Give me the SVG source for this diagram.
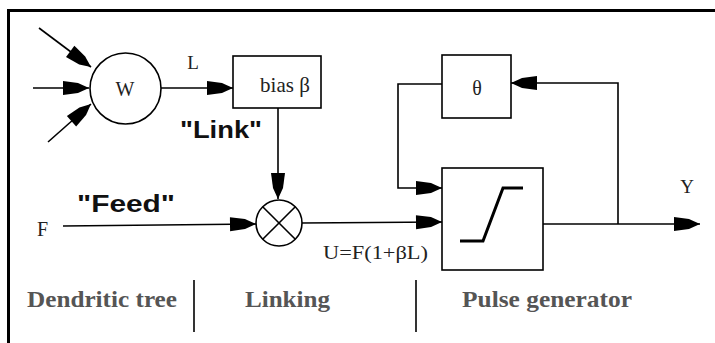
<svg xmlns="http://www.w3.org/2000/svg" width="715" height="343" viewBox="0 0 715 343">
  <style>
    .ln { fill: none; stroke: #000; stroke-width: 1.6; }
    .box { fill: #fff; stroke: #000; stroke-width: 1.6; }
    .serif { font-family: "Liberation Serif", "Times New Roman", serif; fill: #222; }
    .tag { font-family: "Liberation Sans", Arial, sans-serif; font-weight: bold; fill: #111; }
    .sect { font-family: "Liberation Serif", "Times New Roman", serif; font-weight: bold; fill: #555; font-size: 23px; }
  </style>
  <defs>
    <marker id="arr" markerUnits="userSpaceOnUse" markerWidth="30" markerHeight="16" refX="0" refY="0" viewBox="-27 -8 28 16" orient="auto">
      <path d="M0,0 L-11,-5 L-26,-7 L-26,7 L-11,5 Z" fill="#000"/>
    </marker>
  </defs>

  <!-- frame -->
  <g id="frame">
    <line x1="7" y1="10.5" x2="715" y2="10.5" stroke="#000" stroke-width="3"/>
    <line x1="8.5" y1="9" x2="8.5" y2="343" stroke="#000" stroke-width="3"/>
  </g>

  <!-- connectors -->
  <g id="connectors">
    <line class="ln" x1="39" y1="28" x2="91" y2="67" marker-end="url(#arr)"/>
    <line class="ln" x1="33" y1="88" x2="89" y2="88" marker-end="url(#arr)"/>
    <line class="ln" x1="48" y1="142" x2="91" y2="104" marker-end="url(#arr)"/>
    <line class="ln" x1="161" y1="88" x2="233" y2="88" marker-end="url(#arr)"/>
    <line class="ln" x1="278" y1="108" x2="278" y2="199" marker-end="url(#arr)"/>
    <line class="ln" x1="63" y1="226" x2="256" y2="224" marker-end="url(#arr)"/>
    <line class="ln" x1="302" y1="223" x2="442" y2="222" marker-end="url(#arr)"/>
    <polyline class="ln" points="442,84 398,84 398,188 442,188" marker-end="url(#arr)"/>
    <line class="ln" x1="543" y1="224" x2="700" y2="224" marker-end="url(#arr)"/>
    <polyline class="ln" points="618,224 618,83 511,83" marker-end="url(#arr)"/>
  </g>

  <!-- dendritic weighting -->
  <g id="w-node">
    <circle cx="125.5" cy="88.5" r="35.5" fill="#fff" stroke="#000" stroke-width="1.6"/>
    <text class="serif" x="125" y="96" font-size="20" text-anchor="middle">W</text>
  </g>
  <text class="serif" x="193" y="69" font-size="19" text-anchor="middle">L</text>

  <g id="bias-node">
    <rect class="box" x="233" y="56" width="88" height="52"/>
    <text class="serif" x="285" y="92" font-size="21" text-anchor="middle">bias β</text>
  </g>
  <text class="tag" x="180" y="138" font-size="24" textLength="82" lengthAdjust="spacingAndGlyphs">"Link"</text>

  <g id="f-input">
    <text class="serif" x="37" y="236" font-size="20">F</text>
    <text class="tag" x="77" y="212" font-size="24" textLength="98" lengthAdjust="spacingAndGlyphs">"Feed"</text>
  </g>

  <!-- modulation (multiplier) -->
  <g id="mult-node">
    <circle cx="279" cy="223" r="23" fill="#fff" stroke="#000" stroke-width="1.6"/>
    <line class="ln" x1="262.7" y1="206.7" x2="295.3" y2="239.3"/>
    <line class="ln" x1="295.3" y1="206.7" x2="262.7" y2="239.3"/>
  </g>
  <text class="serif" x="323" y="259" font-size="19" fill="#444" textLength="105" lengthAdjust="spacingAndGlyphs">U=F(1+βL)</text>

  <g id="theta-node">
    <rect class="box" x="442" y="55" width="69" height="63"/>
    <text class="serif" x="477" y="95" font-size="20" text-anchor="middle">θ</text>
  </g>

  <g id="pulse-node">
    <rect class="box" x="442" y="168" width="101" height="102"/>
    <polyline points="460,241 483,241 503,188 523,188" fill="none" stroke="#000" stroke-width="3"/>
  </g>

  <text class="serif" x="687" y="193" font-size="19" text-anchor="middle">Y</text>

  <!-- section captions -->
  <g id="sections">
    <text class="sect" x="27" y="307" textLength="150" lengthAdjust="spacingAndGlyphs">Dendritic tree</text>
    <line x1="194" y1="280" x2="194" y2="332" stroke="#000" stroke-width="1.6"/>
    <text class="sect" x="245" y="307" textLength="85" lengthAdjust="spacingAndGlyphs">Linking</text>
    <line x1="416" y1="280" x2="416" y2="332" stroke="#000" stroke-width="1.6"/>
    <text class="sect" x="462" y="307" textLength="170" lengthAdjust="spacingAndGlyphs">Pulse generator</text>
  </g>
</svg>
